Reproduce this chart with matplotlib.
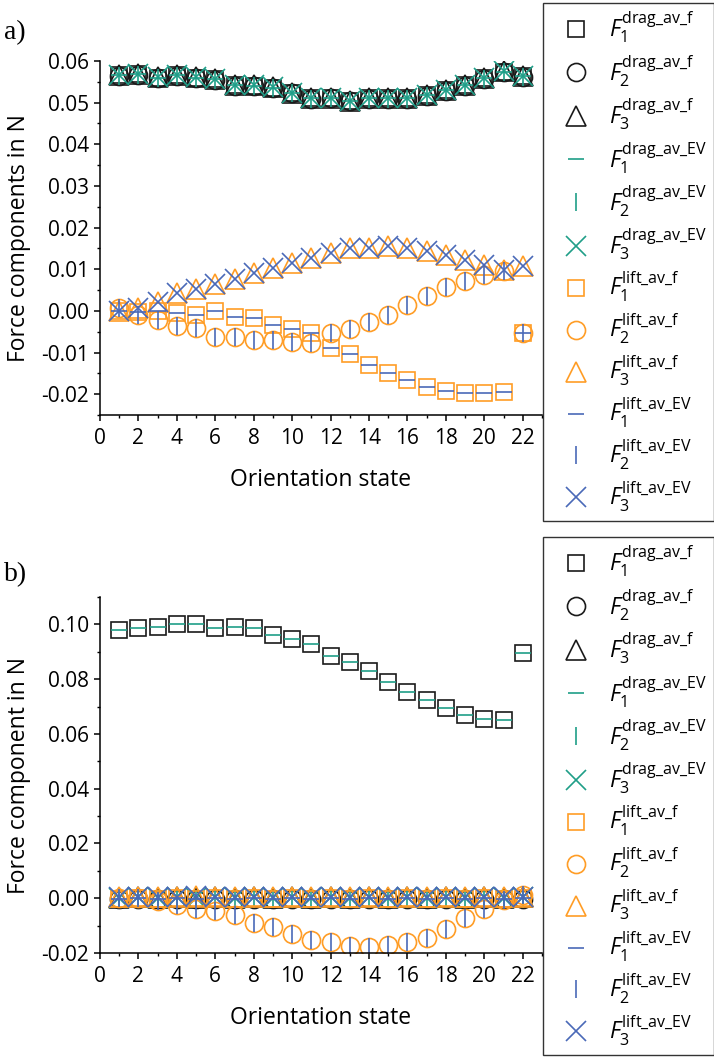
import matplotlib
matplotlib.use("Agg")
import matplotlib.pyplot as plt
from matplotlib.lines import Line2D
from matplotlib.ticker import MultipleLocator, FormatStrFormatter

plt.rcParams['font.family'] = ['Open Sans', 'DejaVu Sans']
plt.rcParams['mathtext.fontset'] = 'custom'
plt.rcParams['mathtext.rm'] = 'Open Sans'
plt.rcParams['mathtext.it'] = 'Open Sans:italic'
plt.rcParams['axes.unicode_minus'] = False

# orientation states
states = list(range(1, 23))

# ---- panel a) ----
a_drag1 = [0.0566, 0.0568, 0.0560, 0.0566, 0.0560, 0.0556, 0.0542, 0.0541, 0.0536, 0.0523, 0.0510,
           0.0511, 0.0504, 0.0510, 0.0510, 0.0510, 0.0518, 0.0530, 0.0542, 0.0558, 0.0574, 0.0563]
a_drag2 = [0.0565, 0.0567, 0.0559, 0.0565, 0.0559, 0.0555, 0.0541, 0.0540, 0.0535, 0.0522, 0.0509,
           0.0510, 0.0503, 0.0509, 0.0509, 0.0509, 0.0517, 0.0529, 0.0541, 0.0557, 0.0573, 0.0562]
a_drag3 = [0.0567, 0.0569, 0.0561, 0.0567, 0.0561, 0.0557, 0.0543, 0.0542, 0.0537, 0.0524, 0.0511,
           0.0512, 0.0505, 0.0511, 0.0511, 0.0511, 0.0519, 0.0531, 0.0543, 0.0559, 0.0575, 0.0564]
a_lift1 = [0.0000, -0.0002, 0.0000, -0.0004, -0.0010, 0.0000, -0.0015, -0.0018, -0.0033, -0.0044, -0.0054,
           -0.0090, -0.0104, -0.0129, -0.0148, -0.0166, -0.0183, -0.0192, -0.0198, -0.0198, -0.0195, -0.0054]
a_lift2 = [0.0006, -0.0010, -0.0022, -0.0036, -0.0042, -0.0062, -0.0062, -0.0070, -0.0071, -0.0074, -0.0076,
           -0.0052, -0.0044, -0.0026, -0.0010, 0.0014, 0.0036, 0.0057, 0.0072, 0.0087, 0.0096, -0.0054]
a_lift3 = [0.0000, 0.0007, 0.0021, 0.0042, 0.0052, 0.0064, 0.0076, 0.0090, 0.0102, 0.0116, 0.0128,
           0.0139, 0.0150, 0.0152, 0.0155, 0.0151, 0.0143, 0.0135, 0.0123, 0.0111, 0.0099, 0.0107]

# ---- panel b) ----
b_drag1 = [0.0981, 0.0988, 0.0992, 0.1002, 0.1002, 0.0987, 0.0989, 0.0985, 0.0961, 0.0946, 0.0930,
           0.0886, 0.0861, 0.0830, 0.0788, 0.0752, 0.0724, 0.0693, 0.0669, 0.0656, 0.0651, 0.0894]
b_drag2 = [-0.0003, -0.0002, -0.0003, -0.0002, -0.0003, -0.0002, -0.0003, -0.0002, -0.0003, -0.0002, -0.0003,
           -0.0002, -0.0003, -0.0002, -0.0003, -0.0002, -0.0003, -0.0002, -0.0003, -0.0002, -0.0003, -0.0002]
b_drag3 = [0.0002, 0.0003, 0.0002, 0.0003, 0.0002, 0.0003, 0.0002, 0.0003, 0.0002, 0.0003, 0.0002,
           0.0003, 0.0002, 0.0003, 0.0002, 0.0003, 0.0002, 0.0003, 0.0002, 0.0003, 0.0002, 0.0003]
b_lift1 = [-0.0001, 0.0000, -0.0001, 0.0000, -0.0001, 0.0000, -0.0001, 0.0000, -0.0001, 0.0000, -0.0001,
           0.0000, -0.0001, 0.0000, -0.0001, 0.0000, -0.0001, 0.0000, -0.0001, 0.0000, -0.0001, 0.0000]
b_lift2 = [0.0000, 0.0000, -0.0010, -0.0023, -0.0038, -0.0047, -0.0060, -0.0092, -0.0105, -0.0129, -0.0151,
           -0.0160, -0.0173, -0.0178, -0.0169, -0.0160, -0.0145, -0.0111, -0.0074, -0.0041, -0.0005, 0.0011]
b_lift3 = [0.0005, 0.0006, 0.0005, 0.0005, 0.0008, 0.0005, 0.0005, 0.0005, 0.0005, 0.0006, 0.0005,
           0.0005, 0.0005, 0.0005, 0.0006, 0.0005, 0.0005, 0.0005, 0.0005, 0.0005, 0.0005, 0.0006]

labels = [r'$F_1^{\mathrm{drag\_av\_f}}$', r'$F_2^{\mathrm{drag\_av\_f}}$', r'$F_3^{\mathrm{drag\_av\_f}}$',
          r'$F_1^{\mathrm{drag\_av\_EV}}$', r'$F_2^{\mathrm{drag\_av\_EV}}$', r'$F_3^{\mathrm{drag\_av\_EV}}$',
          r'$F_1^{\mathrm{lift\_av\_f}}$', r'$F_2^{\mathrm{lift\_av\_f}}$', r'$F_3^{\mathrm{lift\_av\_f}}$',
          r'$F_1^{\mathrm{lift\_av\_EV}}$', r'$F_2^{\mathrm{lift\_av\_EV}}$', r'$F_3^{\mathrm{lift\_av\_EV}}$']

black = '#1a1a1a'
teal = '#1f9e88'
orange = '#ff9d26'
blue = '#4a69b8'

# marker, size, colour for each of the 12 series (legend order)
styles = [('s', 12, black), ('o', 13, black), ('^', 14.5, black),
          ('_', 11, teal), ('|', 13, teal), ('x', 14.5, teal),
          ('s', 12, orange), ('o', 13, orange), ('^', 14.5, orange),
          ('_', 11, blue), ('|', 13, blue), ('x', 14.5, blue)]


def draw(ax, drag, lift):
    series = [drag[0], drag[1], drag[2], drag[0], drag[1], drag[2],
              lift[0], lift[1], lift[2], lift[0], lift[1], lift[2]]
    for vals, (m, ms, c) in zip(series, styles):
        ax.plot(states, vals, linestyle='none', marker=m, markersize=ms,
                mfc='none', mec=c, mew=1.2)


def style_axes(ax, ymajor, yminor, fmt):
    ax.set_xlim(0, 23)
    ax.xaxis.set_major_locator(MultipleLocator(2))
    ax.xaxis.set_minor_locator(MultipleLocator(1))
    ax.yaxis.set_major_locator(MultipleLocator(ymajor))
    ax.yaxis.set_minor_locator(MultipleLocator(yminor))
    ax.yaxis.set_major_formatter(FormatStrFormatter(fmt))
    ax.spines['top'].set_visible(False)
    ax.spines['right'].set_visible(False)
    for s in ('left', 'bottom'):
        ax.spines[s].set_linewidth(1.1)
    ax.tick_params(which='major', direction='out', length=4, width=1.1, labelsize=15, pad=4)
    ax.tick_params(which='minor', direction='out', length=2.5, width=1.0)
    ax.tick_params(axis='x', which='major', pad=5)
    ax.set_xlabel('Orientation state', fontsize=16.5)
    ax.xaxis.set_label_coords(0.5, -0.15)


fig = plt.figure(figsize=(7.14, 10.59), dpi=100)
W, H = 714, 1059

ax_a = fig.add_axes([100 / W, 1 - 415 / H, 442 / W, 354 / H])
draw(ax_a, (a_drag1, a_drag2, a_drag3), (a_lift1, a_lift2, a_lift3))
ax_a.set_ylim(-0.025, 0.06)
style_axes(ax_a, 0.01, 0.005, '%.2f')
ax_a.set_ylabel('Force components in N', fontsize=16.5)
ax_a.yaxis.set_label_coords(-0.155, 0.5)

ax_b = fig.add_axes([100 / W, 1 - 953 / H, 442 / W, 356 / H])
draw(ax_b, (b_drag1, b_drag2, b_drag3), (b_lift1, b_lift2, b_lift3))
ax_b.set_ylim(-0.02, 0.11)
style_axes(ax_b, 0.02, 0.01, '%.2f')
ax_b.set_ylabel('Force component in N', fontsize=16.5)
ax_b.yaxis.set_label_coords(-0.155, 0.5)

fig.text(4 / W, 1 - 33 / H, 'a)', family='Liberation Serif', fontsize=20, va='center')
fig.text(4 / W, 1 - 575 / H, 'b)', family='Liberation Serif', fontsize=20, va='center')

handles = [Line2D([], [], linestyle='none', marker=m, markersize=ms, mfc='none', mec=c, mew=1.2)
           for (m, ms, c) in styles]

for top in (3, 537):
    leg = fig.legend(handles, labels, loc='upper left', bbox_to_anchor=(543 / W, 1 - top / H),
                     bbox_transform=fig.transFigure, borderaxespad=0, frameon=True,
                     fancybox=False, edgecolor='black', fontsize=16.5, numpoints=1,
                     handlelength=2.3, handletextpad=0.3, labelspacing=0.34, borderpad=0.3)
    leg.get_frame().set_linewidth(1.0)

fig.savefig('out.png', dpi=100)
